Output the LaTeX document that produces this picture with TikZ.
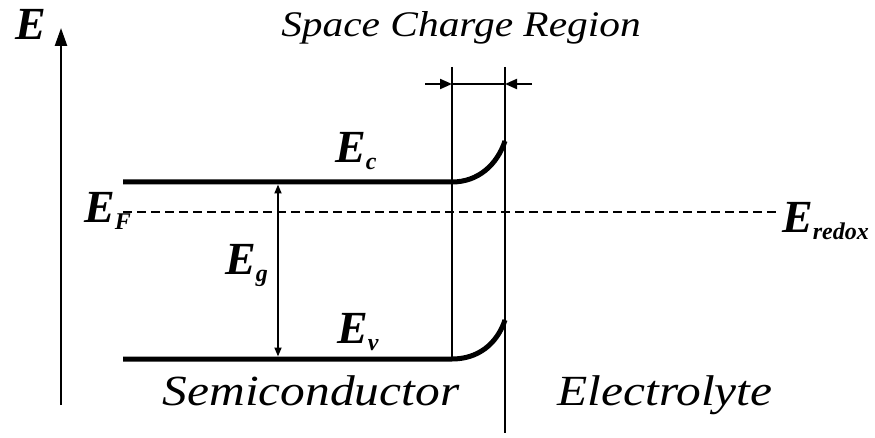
\documentclass[tikz,border=0pt]{standalone}
\usepackage{fontspec}
\setmainfont{Liberation Serif}
\usetikzlibrary{arrows.meta}
\newcommand{\Elev}[1]{E\raisebox{-7pt}{\fontsize{24}{24}\selectfont #1}}
\newcommand{\widetext}[1]{\scalebox{1.15}[1]{#1}}

\begin{document}
\begin{tikzpicture}[x=1pt, y=-1pt,
  lbl/.style={font=\fontsize{46}{46}\selectfont\bfseries\itshape, inner sep=0pt, anchor=base west},
  region/.style={font=\fontsize{43}{43}\selectfont\itshape, inner sep=0pt, anchor=base},
  band/.style={line width=5pt},
  wall/.style={line width=2.5pt},
  tip/.style={-{Triangle[length=12pt, width=10pt]}, line width=2pt}]
  \useasboundingbox (0,0) rectangle (875,438);
  % energy axis
  \coordinate (axbot) at (61,405);
  \coordinate (axtop) at (61,28);
  \draw[line width=2.5pt, -{Triangle[length=18pt, width=12pt]}] (axbot) -- (axtop);
  \node[lbl] (Eaxis) at (15,40) {E};
  % space charge region walls
  \coordinate (sctop) at (452,67);
  \coordinate (scbot) at (452,359);
  \coordinate (iftop) at (505,67);
  \coordinate (ifbot) at (505,433);
  \draw[line width=1.8pt] (sctop) -- (scbot);
  \draw[wall] (iftop) -- (ifbot);
  \coordinate (scl) at (452,84);
  \coordinate (scr) at (505,84);
  \coordinate (scl0) at (425,84);
  \coordinate (scr0) at (532,84);
  \draw[tip] (scl0) -- (scl);
  \draw[tip] (scr0) -- (scr);
  \draw[line width=1.8pt] (scl) -- (scr);
  % bands
  \coordinate (cb0) at (123,182);
  \coordinate (cbk) at (452,182);
  \coordinate (cbs) at (505,141);
  \coordinate (vb0) at (123,359);
  \coordinate (vbk) at (452,359);
  \coordinate (vbs) at (505,320);
  \draw[band] (cb0) -- (cbk) .. controls (478,182) and (497,165) .. (cbs);
  \draw[band] (vb0) -- (vbk) .. controls (478,359) and (497,344) .. (vbs);
  % fermi / redox level
  \coordinate (fermi) at (123,212);
  \coordinate (redox) at (778,212);
  \draw[line width=1.2pt, dash pattern=on 9pt off 5pt] (fermi) -- (redox);
  % band gap
  \coordinate (gtop) at (278,184.5);
  \coordinate (gbot) at (278,356.5);
  \draw[line width=1.8pt, {Triangle[length=9pt, width=7pt]}-{Triangle[length=9pt, width=7pt]}] (gtop) -- (gbot);
  % labels
  \node[lbl] (Ec) at (335,163) {\Elev{c}};
  \node[lbl] (EF) at (84,223) {\Elev{F}};
  \node[lbl] (Eg) at (225,275) {\Elev{g}};
  \node[lbl] (Ev) at (337,343) {\Elev{v}};
  \node[lbl] (Eredox) at (782,233) {\Elev{redox}};
  \node[region, font=\fontsize{36}{36}\selectfont\itshape] (scrlbl) at (461,37) {\widetext{Space Charge Region}};
  \node[region] (semi) at (311,405) {\widetext{Semiconductor}};
  \node[region] (elyte) at (665,405) {\widetext{Electrolyte}};
\end{tikzpicture}
\end{document}
